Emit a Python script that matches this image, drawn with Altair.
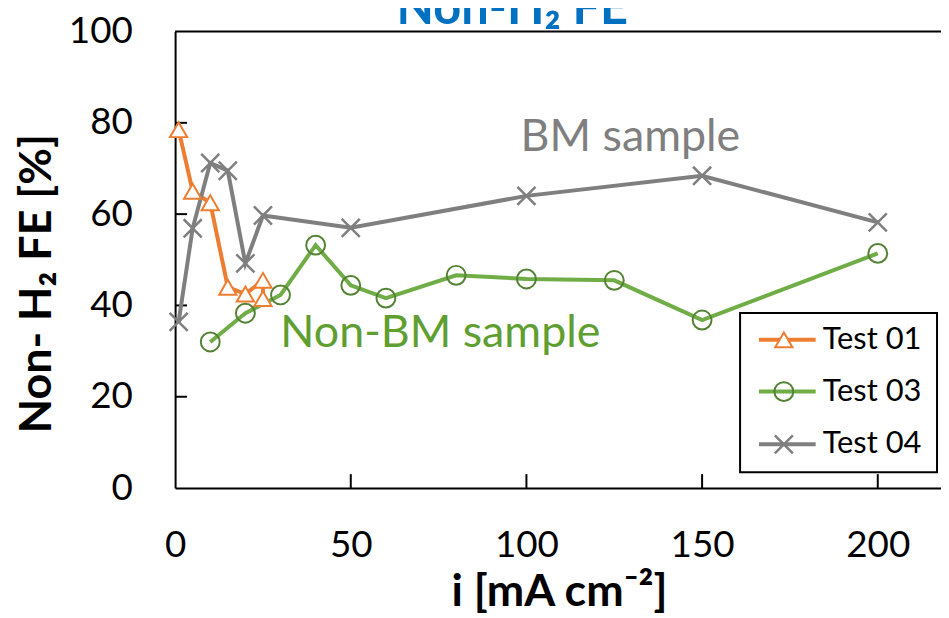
import altair as alt
import pandas as pd

# ---------------- data ----------------
t01_x = [1, 5, 10, 15, 20, 25, 25]
t01_y = [78.5, 65.0, 62.5, 44.0, 42.5, 45.5, 41.5]
t03_x = [10, 20, 30, 40, 50, 60, 80, 100, 125, 150, 200]
t03_y = [32.0, 38.3, 42.3, 53.2, 44.4, 41.6, 46.6, 45.8, 45.5, 36.8, 51.4]
t04_x = [1, 5, 10, 15, 20, 25, 50, 100, 150, 200]
t04_y = [36.4, 56.9, 71.2, 69.5, 49.2, 59.7, 57.0, 64.0, 68.4, 58.2]

series_names = ["Test 01", "Test 03", "Test 04"]
series_colors = ["#ED7D31", "#70AD47", "#7F7F7F"]
marker_colors = ["#ED7D31", "#548235", "#7F7F7F"]

x_ticks = [0, 50, 100, 150, 200]
y_ticks = [0, 20, 40, 60, 80, 100]
inner_y_ticks = [20, 40, 60, 80]
inner_x_ticks = [50, 100, 150, 200]

title_text = "Non-H₂ FE"
x_title = "i [mA cm⁻²]"
y_title = "Non- H₂ FE [%]"
annot_text = ["BM sample", "Non-BM sample"]
annot_x = [129.6, 75.5]
annot_y = [73.9, 30.9]
annot_color = ["#7F7F7F", "#5F9E30"]

FONT = "Lato"
W, H = 770, 459
XMAX = 218

rows = []
for name, xs, ys in zip(series_names, [t01_x, t03_x, t04_x], [t01_y, t03_y, t04_y]):
    for i, (a, b) in enumerate(zip(xs, ys)):
        rows.append({"series": name, "i": a, "fe": b, "idx": i})
df = pd.DataFrame(rows)

xscale = alt.Scale(domain=[0, XMAX], nice=False, zero=True)
yscale = alt.Scale(domain=[0, 100], nice=False)
color = alt.Color("series:N", scale=alt.Scale(domain=series_names, range=series_colors), legend=None)

xaxis = alt.Axis(values=x_ticks, grid=False, ticks=False, labelFont=FONT, labelFontSize=37,
                 labelColor="black", labelPadding=40, domainColor="black", domainWidth=2,
                 title=x_title, titleFont=FONT, titleFontSize=45, titleFontWeight="bold",
                 titleColor="black", titleX=386, titleY=118, titleBaseline="alphabetic",
                 titleAlign="center", labelFlush=False)
yaxis = alt.Axis(values=y_ticks, grid=False, ticks=False, labelFont=FONT, labelFontSize=37,
                 labelColor="black", labelPadding=43, domainColor="black", domainWidth=2,
                 title=y_title, titleFont=FONT, titleFontSize=45, titleFontWeight="bold",
                 titleColor="black", titleX=-139, titleY=253, titleBaseline="middle",
                 titleAlign="center", titleAngle=-90, labelFlush=False)

base = alt.Chart(df)

lines = base.mark_line(strokeWidth=4).encode(
    x=alt.X("i:Q", scale=xscale, axis=xaxis),
    y=alt.Y("fe:Q", scale=yscale, axis=yaxis),
    color=color,
    order="idx:Q",
)

X_PATH = "M-1,-1L1,1M-1,1L1,-1"
shapes = ["triangle-up", "circle", X_PATH]
fills = ["white", None, None]
sizes = [300, 360, 330]
sws = [2, 2, 2.5]


def marker_kw(k):
    kw = dict(shape=shapes[k], stroke=marker_colors[k], size=sizes[k],
              strokeWidth=sws[k], opacity=1, filled=False)
    if fills[k]:
        kw["fill"] = fills[k]
    return kw


point_layers = [
    base.transform_filter(alt.datum.series == series_names[k]).mark_point(**marker_kw(k)).encode(
        x="i:Q", y="fe:Q")
    for k in range(3)
]

# top frame line and inner ticks
top_line = alt.Chart(pd.DataFrame({"v": [100]})).mark_rule(color="black", strokeWidth=2).encode(
    y="v:Q", x=alt.value(0), x2=alt.value(W))
ytk = alt.Chart(pd.DataFrame({"v": inner_y_ticks})).mark_rule(color="black", strokeWidth=2).encode(
    y="v:Q", x=alt.value(0), x2=alt.value(12))
xtk = alt.Chart(pd.DataFrame({"v": inner_x_ticks})).mark_rule(color="black", strokeWidth=2).encode(
    x="v:Q", y=alt.value(H), y2=alt.value(H - 14))

annot = alt.Chart(pd.DataFrame({"t": annot_text, "x": annot_x, "y": annot_y, "c": annot_color})).mark_text(
    font=FONT, fontSize=45, align="center", baseline="alphabetic").encode(
    x="x:Q", y="y:Q", text="t:N", color=alt.Color("c:N", scale=None))

one = pd.DataFrame({"t": [title_text]})
title = alt.Chart(one).mark_text(font=FONT, fontSize=49, fontWeight="bold", color="#0070C0",
                                 align="center", baseline="alphabetic").encode(
    x=alt.value(339), y=alt.value(-8), text="t:N")

# manual legend
box = alt.Chart(one).mark_rect(fill="white", stroke="black", strokeWidth=2).encode(
    x=alt.value(568), x2=alt.value(766), y=alt.value(283), y2=alt.value(443))
leg_layers = [box]
leg_y = [310, 362, 415]
for k in range(3):
    d = pd.DataFrame({"t": [series_names[k]]})
    leg_layers.append(alt.Chart(d).mark_rule(color=series_colors[k], strokeWidth=4).encode(
        x=alt.value(587), x2=alt.value(644), y=alt.value(leg_y[k])))
    leg_layers.append(alt.Chart(d).mark_point(**marker_kw(k)).encode(x=alt.value(612), y=alt.value(leg_y[k])))
    leg_layers.append(alt.Chart(d).mark_text(font=FONT, fontSize=31, align="left", baseline="middle",
                                             color="black").encode(
        x=alt.value(651), y=alt.value(leg_y[k]), text="t:N"))

chart = alt.layer(top_line, ytk, xtk, lines, *point_layers, annot, title, *leg_layers).properties(
    width=W, height=H,
    autosize=alt.AutoSizeParams(type="none"),
    padding={"left": 168, "top": 22, "right": 0, "bottom": 130},
).configure_view(stroke=None)

chart.save("out.html", embed_options={"renderer": "svg", "actions": False})
